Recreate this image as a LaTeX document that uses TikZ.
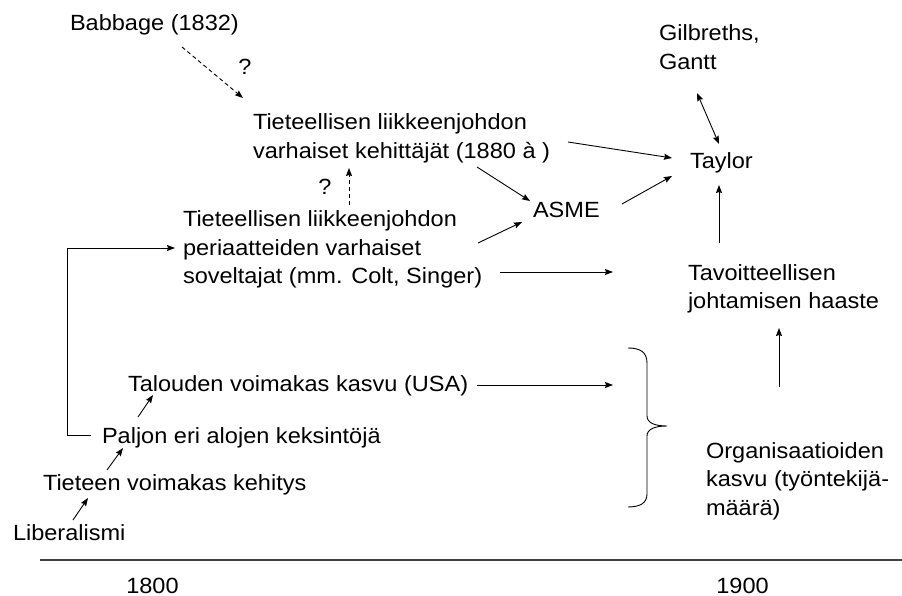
\documentclass[tikz,border=0pt]{standalone}
\usepackage{fontspec}
\setmainfont[FakeStretch=1.07]{Liberation Sans}
\usetikzlibrary{arrows.meta,calc}

\begin{document}
\begin{tikzpicture}[x=1pt,y=-1pt,
  every node/.style={font=\fontsize{22}{28.5}\selectfont, inner sep=0pt, outer sep=0pt},
  lbl/.style={anchor=base west},
  blk/.style={anchor=north west, align=left},
  tip/.style={-{Stealth[length=8pt,width=6pt,inset=1pt]}},
  conn/.style={line width=0.9pt, tip},
  dconn/.style={conn, dash pattern=on 4pt off 3pt},
  plain/.style={line width=0.9pt}]

\useasboundingbox (0,0) rectangle (902,596);

% texts
\node[lbl] (babbage) at (70,31) {Babbage (1832)};
\node[anchor=base] (q1) at (245,75) {?};
\node[blk] (kehit) at (253,113.7) {Tieteellisen liikkeenjohdon\\varhaiset kehittäjät (1880 à )};
\node[anchor=base] (q2) at (325,195) {?};
\node[blk] (sovelt) at (183,210.7) {Tieteellisen liikkeenjohdon\\periaatteiden varhaiset\\soveltajat (mm. Colt, Singer)};
\node[lbl] (asme) at (533,218) {ASME};
\node[lbl] (taylor) at (690,169) {Taylor};
\node[blk] (gilb) at (659,24.7) {Gilbreths,\\Gantt};
\node[blk] (tavoit) at (688,264.2) {Tavoitteellisen\\johtamisen haaste};
\node[blk] (org) at (706,442.2) {Organisaatioiden\\kasvu (työntekijä-\\määrä)};
\node[lbl] (talous) at (128,391) {Talouden voimakas kasvu (USA)};
\node[lbl] (paljon) at (102,443) {Paljon eri alojen keksintöjä};
\node[lbl] (tieteen) at (43,490) {Tieteen voimakas kehitys};
\node[lbl] (liber) at (13,540) {Liberalismi};
\node[anchor=base] (y1800) at (152.5,593) {1800};
\node[anchor=base] (y1900) at (742.5,593) {1900};

% connectors
\draw[dconn] ($(babbage.base west)+(112,16)$) -- ($(kehit.north west)+(-10,-15.7)$);
\draw[dconn] ($(sovelt.north west)+(166,-5.7)$) -- ($(kehit.north west)+(96,54.3)$);
\draw[conn] ($(kehit.north west)+(224,53.3)$) -- ($(asme.base west)+(-3,-17)$);
\draw[conn] ($(sovelt.north west)+(295,32.3)$) -- ($(asme.base west)+(-11,4)$);
\draw[conn] ($(kehit.north west)+(315,28.3)$) -- ($(taylor.base west)+(-18,-11)$);
\draw[conn] ($(asme.base west)+(89,-14)$) -- ($(taylor.base west)+(-18,7)$);
\draw[conn] ($(sovelt.north west)+(317,61.3)$) -- ($(sovelt.north west)+(430,61.3)$);
\draw[plain, {Stealth[length=8pt,width=6pt,inset=1pt]}-{Stealth[length=8pt,width=6pt,inset=1pt]}]
  ($(gilb.north west)+(38,68.3)$) -- ($(taylor.base west)+(29,-25)$);
\draw[conn] ($(tavoit.north west)+(31,-21.2)$) -- ($(taylor.base west)+(29,16)$);
\draw[conn] ($(org.north west)+(73,-55.2)$) -- ($(tavoit.north west)+(91,63.8)$);
\draw[conn] ($(talous.base west)+(349,-6)$) -- ($(talous.base west)+(485,-6)$);
\draw[conn] ($(paljon.base west)+(-11,-8)$) -- ++(-24,0) |- ($(sovelt.north west)+(-8,37.3)$);
\draw[conn] ($(paljon.base west)+(36,-26)$) -- ($(talous.base west)+(25,4)$);
\draw[conn] ($(tieteen.base west)+(64,-20)$) -- ($(paljon.base west)+(21,5)$);
\draw[conn] ($(liber.base west)+(60,-20)$) -- ($(tieteen.base west)+(45,8)$);

% brace gathering the growth factors
\draw[plain] (628,348) .. controls (640,348) and (647,352) .. (647,363)
  -- (647,416) .. controls (647,423) and (655,426) .. (667,426)
  .. controls (655,426) and (647,429) .. (647,436)
  -- (647,494) .. controls (647,503) and (640,507) .. (628,507);

% time axis
\draw[line width=1.4pt, black!75] (40,560) -- (902,560);
\end{tikzpicture}
\end{document}
